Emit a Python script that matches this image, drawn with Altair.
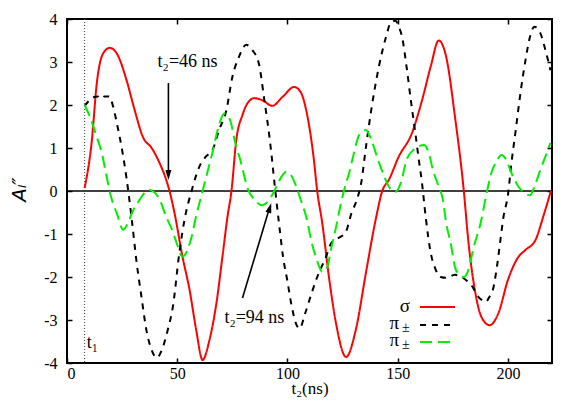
import altair as alt
import pandas as pd

# ---------------- data ----------------
t_sigma = [8, 11.3, 13.5, 16.4, 19.4, 23, 27, 30.7, 34.4, 38.4, 42, 45, 46.5, 48.8, 52.4, 55.6,
           58.6, 61.5, 64.6, 67.8, 70.5, 72.8, 74.6, 76.8, 79.6, 82, 85, 89, 93, 98, 103, 106,
           108.5, 112, 113.5, 115.8, 119, 122, 126.6, 131, 135.6, 140, 143, 146, 150.5, 156.5,
           161, 165, 168.6, 172, 176, 180, 182, 185, 188, 191.7, 195.7, 200, 204.8, 208, 212.5,
           216, 219.5]
a_sigma = [0.07, 1.19, 2.5, 3.2, 3.33, 3.16, 2.58, 1.88, 1.26, 1.0, 0.65, 0.26, 0.0, -0.52,
           -1.53, -2.3, -3.23, -3.93, -3.47, -2.6, -1.53, -0.6, 0.0, 1.19, 1.77, 2.05, 2.16, 2.1,
           1.98, 2.2, 2.42, 2.3, 1.88, 0.72, 0.0, -0.75, -2.07, -3.07, -3.86, -3.23, -1.9, -0.67,
           0.0, 0.26, 0.8, 1.35, 2.1, 2.9, 3.5, 3.12, 1.72, 0.0, -1.14, -2.3, -2.93, -3.12, -2.84,
           -2.07, -1.53, -1.37, -1.14, -0.6, 0.0]

t_pi_a = [8, 10, 12, 14, 15.5, 17, 19, 21, 22.6, 25, 27, 29.4, 31.6, 33.8, 36, 38.4, 40.7, 43,
          45.7, 48, 51, 53.3, 56.5, 60, 63, 66, 69, 72.3, 75, 78, 81.3, 84, 87, 89.5, 92, 94.5,
          96.5, 98, 100, 102, 104, 105.5, 108, 111, 113.5, 117.5, 120, 123, 126.5, 129, 131.5,
          133.5, 135.6, 138, 141.5, 144.7, 147, 149, 150.5, 152, 154, 156, 158, 159.6, 161,
          162.7, 165, 167, 169.5, 172, 176, 179, 181, 184, 186, 188, 190, 191.5, 193.5, 195,
          196.6, 198, 200, 201.6, 203.5, 205.7, 208, 210, 212, 214.7, 217, 219.3]
a_pi_a = [1.98, 2.1, 2.18, 2.2, 2.14, 2.2, 2.2, 1.95, 1.58, 0.95, 0.3, -0.67, -1.67, -2.47,
          -3.23, -3.7, -3.88, -3.7, -3.23, -2.7, -1.42, -0.67, 0.0, 0.56, 0.8, 0.95, 1.42, 1.88,
          2.65, 3.12, 3.4, 3.28, 2.97, 2.12, 1.19, 0.0, -0.9, -1.53, -2.1, -2.7, -3.1, -3.2,
          -2.85, -2.37, -2.0, -1.53, -1.2, -1.1, -0.95, -0.52, -0.2, 0.2, 1.02, 1.88, 2.9, 3.58,
          3.93, 3.96, 3.82, 3.58, 2.9, 2.1, 1.35, 0.72, 0.2, -0.6, -1.44, -1.8, -2.0, -2.02,
          -1.95, -2.0, -2.07, -2.23, -2.42, -2.53, -2.58, -2.47, -2.23, -1.77, -1.14, -0.6, -0.1,
          0.65, 1.4, 2.28, 3.05, 3.58, 3.82, 3.67, 3.28, 2.81]

t_pi_b = [8, 10.4, 13.5, 15.8, 18, 20, 22.6, 25.5, 27.6, 30, 33, 35, 37, 40, 42, 45, 48, 50,
          52.4, 54, 56.5, 58.5, 61.5, 63.5, 66, 68.5, 71.4, 74, 76, 79, 82, 85, 88.6, 91, 93,
          95.4, 97.5, 99.4, 101.5, 104, 106, 108.5, 111, 113, 115.8, 118, 120, 122, 124.3,
          126.6, 128, 130, 132.5, 135.6, 138, 140.6, 143.8, 146, 149, 151.5, 154, 157, 160, 162,
          164, 166, 168.6, 170.5, 172, 174, 176, 178, 180, 182, 184.5, 187.6, 190, 192.5, 195,
          197, 199, 201.6, 204.8, 207, 210, 212, 214.7, 217, 219.3]
a_pi_b = [2.0, 1.72, 1.26, 0.88, 0.33, -0.14, -0.52, -0.9, -0.75, -0.45, -0.2, -0.05, 0.03,
          -0.05, -0.2, -0.6, -0.95, -1.25, -1.53, -1.44, -1.07, -0.6, 0.0, 0.4, 0.9, 1.45, 1.8,
          1.65, 1.19, 0.65, 0.05, -0.2, -0.33, -0.25, -0.1, 0.15, 0.35, 0.45, 0.38, 0.1, -0.2,
          -0.6, -1.2, -1.55, -1.88, -1.77, -1.3, -0.85, -0.28, 0.19, 0.42, 0.85, 1.3, 1.42, 1.2,
          0.8, 0.35, 0.1, -0.02, 0.2, 0.72, 0.95, 1.05, 1.07, 0.9, 0.49, 0.1, -0.2, -0.75, -1.2,
          -1.77, -1.95, -2.0, -1.85, -1.3, -0.75, -0.14, 0.42, 0.7, 0.84, 0.75, 0.42, 0.1, -0.02,
          -0.1, 0.1, 0.49, 0.8, 1.12]

x_ticks = [0, 50, 100, 150, 200]
y_ticks = [-4, -3, -2, -1, 0, 1, 2, 3, 4]

t1_time = [8]
zero_level = [0]

ann_t = [54.7, 85.0]
ann_a = [2.88, -3.07]
ann_text = ["t₂=46 ns", "t₂=94 ns"]

t1_label_t = [9.0]
t1_label_a = [-3.65]

arrow_t = [46.0, 79.6]
arrow_a = [2.51, -2.49]
arrow_t2 = [46.0, 91.3]
arrow_a2 = [0.44, -0.49]
head_t = [46.0, 92.0]
head_a = [0.37, -0.39]
head_angle = [0, 197]

# ---------------- styling ----------------
W, H = 485, 344
SERIF = "Liberation Serif"
keys = ["sigma", "pi_a", "pi_b"]
colors = ["#ff0000", "#000000", "#00ee00"]
dashes = [[1, 0], [6, 6], [12, 6]]

xs = alt.Scale(domain=[0, 220], nice=False, zero=False)
ys = alt.Scale(domain=[-4, 4], nice=False, zero=False)

rows = []
for k, ts, vs in zip(keys, [t_sigma, t_pi_a, t_pi_b], [a_sigma, a_pi_a, a_pi_b]):
    for t, v in zip(ts, vs):
        rows.append({"series": k, "t": t, "A": v})
df = pd.DataFrame(rows)

zero_rule = alt.Chart(pd.DataFrame({"A": zero_level})).mark_rule(
    color="black", strokeWidth=1.5
).encode(y=alt.Y("A:Q", scale=ys, axis=None))

t1_rule = alt.Chart(pd.DataFrame({"t": t1_time})).mark_rule(
    color="#444444", strokeWidth=1, strokeDash=[1, 2]
).encode(x=alt.X("t:Q", scale=xs, axis=None))

lines = alt.Chart(df).mark_line(strokeWidth=2, interpolate="monotone").encode(
    x=alt.X("t:Q", scale=xs, axis=alt.Axis(
        values=x_ticks, ticks=False, tickSize=0, domain=False, grid=False,
        labelFont=SERIF, labelFontSize=16, labelPadding=2, labelColor="black",
        title="t₂(ns)", titleFont=SERIF, titleFontSize=17, titleFontWeight="normal",
        titleColor="black", titleBaseline="alphabetic", titleY=30)),
    y=alt.Y("A:Q", scale=ys, axis=alt.Axis(
        values=y_ticks, ticks=False, tickSize=0, domain=False, grid=False,
        labelFont=SERIF, labelFontSize=16, labelPadding=10, labelColor="black",
        labelExpr="'' + datum.value",
        title="Aₗ″", titleFont="DejaVu Sans", titleFontStyle="italic", titleFontSize=20,
        titleFontWeight="normal", titleColor="black", titleAngle=270, titleX=-48, titleY=170,
        titleAlign="center", titleBaseline="middle")),
    color=alt.Color("series:N", scale=alt.Scale(domain=keys, range=colors), legend=None),
    strokeDash=alt.StrokeDash("series:N", scale=alt.Scale(domain=keys, range=dashes), legend=None),
)

tick_common = dict(labels=False, domain=False, grid=False, ticks=True, tickSize=5,
                   tickWidth=1.5, tickColor="black", title=None)
xt_df = pd.DataFrame({"t": x_ticks})
yt_df = pd.DataFrame({"A": y_ticks})
xt_bottom = alt.Chart(xt_df).mark_point(opacity=0).encode(
    x=alt.X("t:Q", scale=xs, axis=alt.Axis(orient="top", offset=-H, values=x_ticks, **tick_common)))
xt_top = alt.Chart(xt_df).mark_point(opacity=0).encode(
    x=alt.X("t:Q", scale=xs, axis=alt.Axis(orient="bottom", offset=-H, values=x_ticks, **tick_common)))
yt_left = alt.Chart(yt_df).mark_point(opacity=0).encode(
    y=alt.Y("A:Q", scale=ys, axis=alt.Axis(orient="right", offset=-W, values=y_ticks, **tick_common)))
yt_right = alt.Chart(yt_df).mark_point(opacity=0).encode(
    y=alt.Y("A:Q", scale=ys, axis=alt.Axis(orient="left", offset=-W, values=y_ticks, **tick_common)))

ann = alt.Chart(pd.DataFrame({"t": ann_t, "A": ann_a, "label": ann_text})).mark_text(
    font=SERIF, fontSize=18, align="center", baseline="alphabetic", color="black"
).encode(x=alt.X("t:Q", scale=xs, axis=None), y=alt.Y("A:Q", scale=ys, axis=None), text="label:N")

t1_text = alt.Chart(pd.DataFrame({"t": t1_label_t, "A": t1_label_a, "label": ["t₁"]})).mark_text(
    font=SERIF, fontSize=18, align="left", baseline="alphabetic", color="black"
).encode(x=alt.X("t:Q", scale=xs, axis=None), y=alt.Y("A:Q", scale=ys, axis=None), text="label:N")

shafts = alt.Chart(pd.DataFrame({"t": arrow_t, "A": arrow_a, "t2": arrow_t2, "A2": arrow_a2})).mark_rule(
    color="black", strokeWidth=1.6
).encode(x=alt.X("t:Q", scale=xs, axis=None), y=alt.Y("A:Q", scale=ys, axis=None),
         x2="t2:Q", y2="A2:Q")

heads = alt.Chart(pd.DataFrame({"t": head_t, "A": head_a, "ang": head_angle})).mark_point(
    shape="M-0.6,-1L0.6,-1L0,1Z", filled=True, size=100, color="black", opacity=1, strokeWidth=0
).encode(x=alt.X("t:Q", scale=xs, axis=None), y=alt.Y("A:Q", scale=ys, axis=None),
         angle=alt.Angle("ang:Q", scale=None))

one = pd.DataFrame({"k": [0]})
legend_layers = []
leg_rows = [288, 306, 323]
for i, (c, d) in enumerate(zip(colors, dashes)):
    legend_layers.append(alt.Chart(one).mark_rule(color=c, strokeWidth=2, strokeDash=d).encode(
        x=alt.value(353), x2=alt.value(388), y=alt.value(leg_rows[i])))
legend_layers.append(alt.Chart(one).mark_text(text="σ", font=SERIF, fontSize=19, align="right",
                                              baseline="middle", color="black").encode(
    x=alt.value(343), y=alt.value(287)))
for r in leg_rows[1:]:
    legend_layers.append(alt.Chart(one).mark_text(text="π", font=SERIF, fontSize=19, align="right",
                                                  baseline="middle", color="black").encode(
        x=alt.value(332), y=alt.value(r - 2)))
    legend_layers.append(alt.Chart(one).mark_text(text="±", font=SERIF, fontSize=14, align="left",
                                                  baseline="middle", color="black").encode(
        x=alt.value(335), y=alt.value(r + 3)))

chart = alt.layer(
    zero_rule, t1_rule, lines, xt_bottom, xt_top, yt_left, yt_right,
    ann, t1_text, shafts, heads, *legend_layers
).resolve_axis(x="independent", y="independent").properties(
    width=W, height=H,
    padding={"left": 59, "top": 11, "right": 21, "bottom": 36},
    autosize=alt.AutoSizeParams(type="none"),
    background="white",
).configure_view(stroke="black", strokeWidth=2)

chart.save("out.html", embed_options={"renderer": "svg", "actions": False})
